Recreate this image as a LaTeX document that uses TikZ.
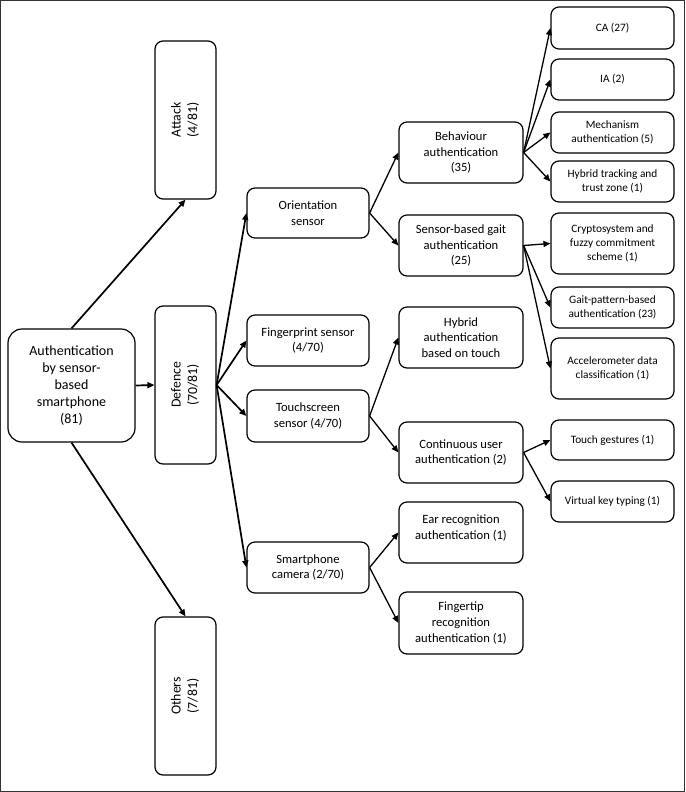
\documentclass[tikz,border=0pt]{standalone}
\usepackage{fontspec}
\setmainfont{Carlito}
\usetikzlibrary{arrows.meta}

\begin{document}
\begin{tikzpicture}[x=1pt, y=-1pt, >={Triangle[length=7pt, width=6pt]},
  box/.style={draw, rounded corners=8pt, line width=1.2pt, align=center, inner sep=2pt},
  midbox/.style={box, minimum width=122pt, font=\fontsize{12.6}{15.8}\selectfont},
  leafbox/.style={box, minimum width=123pt, font=\fontsize{11.3}{14}\selectfont},
  catbox/.style={box, minimum width=61pt, minimum height=158pt, font=\fontsize{13.8}{16.5}\selectfont},
  link/.style={->, line width=1.3pt},
  mainlink/.style={->, line width=1.7pt}]
  % marco y caja de la imagen
  \useasboundingbox (0,0) rectangle (685,792);
  \draw[line width=1pt, black!80] (0.5,0.5) rectangle (684.5,791.5);
  % raiz
  \node[box, rounded corners=14pt, minimum width=127pt, minimum height=113pt,
    font=\fontsize{14}{17}\selectfont] (root) at (71.5,385.5)
    {Authentication\\by sensor-\\based\\smartphone\\(81)};
  % categorias (texto girado)
  \node[catbox] (att) at (185.5,120) {\rotatebox[origin=c]{90}{\begin{tabular}{@{}c@{}}Attack\\(4/81)\end{tabular}}};
  \node[catbox] (def) at (185.5,385) {\rotatebox[origin=c]{90}{\begin{tabular}{@{}c@{}}Defence\\(70/81)\end{tabular}}};
  \node[catbox] (oth) at (185.5,696) {\rotatebox[origin=c]{90}{\begin{tabular}{@{}c@{}}Others\\(7/81)\end{tabular}}};
  % sensores
  \node[midbox, minimum height=50pt] (ori) at (308,213) {Orientation\\sensor};
  \node[midbox, minimum height=51pt] (fin) at (308,340.5) {Fingerprint sensor\\(4/70)};
  \node[midbox, minimum height=52pt] (tou) at (308,416) {Touchscreen\\sensor (4/70)};
  \node[midbox, minimum height=51pt] (cam) at (308,567.5) {Smartphone\\camera (2/70)};
  % metodos
  \node[midbox, minimum width=124pt, minimum height=61pt] (beh) at (461,152.5) {Behaviour\\authentication\\(35)};
  \node[midbox, minimum width=124pt, minimum height=61pt] (gai) at (461,245.5) {Sensor-based gait\\authentication\\(25)};
  \node[midbox, minimum width=124pt, minimum height=61pt] (hyb) at (461,337.5) {Hybrid\\authentication\\based on touch};
  \node[midbox, minimum width=124pt, minimum height=61pt] (con) at (461,452.5) {Continuous user\\authentication (2)};
  \node[midbox, minimum width=124pt, minimum height=61pt] (ear) at (461,532.5) {Ear recognition\\authentication (1)\\[-5pt]\mbox{}};
  \node[midbox, minimum width=124pt, minimum height=62pt] (fti) at (461,623) {Fingertip\\recognition\\authentication (1)};
  % hojas
  \node[leafbox, minimum height=42pt] (ca)  at (612.5,28)    {CA (27)};
  \node[leafbox, minimum height=41pt] (ia)  at (612.5,79.5)  {IA (2)};
  \node[leafbox, minimum height=41pt] (mec) at (612.5,132.5) {Mechanism\\authentication (5)};
  \node[leafbox, minimum height=41pt] (htz) at (612.5,181.5) {Hybrid tracking and\\trust zone (1)};
  \node[leafbox, minimum height=61pt] (cry) at (612.5,243.5) {Cryptosystem and\\fuzzy commitment\\scheme (1)};
  \node[leafbox, minimum height=41pt] (gpa) at (612.5,307.5) {Gait-pattern-based\\authentication (23)};
  \node[leafbox, minimum height=61pt] (acc) at (612.5,368.5) {Accelerometer data\\classification (1)};
  \node[leafbox, minimum height=40pt] (tg)  at (612.5,440)   {Touch gestures (1)};
  \node[leafbox, minimum height=41pt] (vkt) at (612.5,501.5) {Virtual key typing (1)};
  % flechas desde la raiz
  \draw[mainlink] (root.north) -- (att.south);
  \draw[mainlink] (root.east) -- (def.west);
  \draw[mainlink] (root.south) -- (oth.north);
  % flechas de defensa
  \foreach \t in {ori, fin, tou, cam}
    \draw[mainlink] (def.east) -- (\t.west);
  % segundo nivel
  \foreach \s/\t in {ori/beh, ori/gai, tou/hyb, tou/con, cam/ear, cam/fti}
    \draw[link] (\s.east) -- (\t.west);
  % tercer nivel
  \foreach \s/\t in {beh/ca, beh/ia, beh/mec, beh/htz, gai/cry, gai/gpa, gai/acc, con/tg, con/vkt}
    \draw[link] (\s.east) -- (\t.west);
\end{tikzpicture}
\end{document}
